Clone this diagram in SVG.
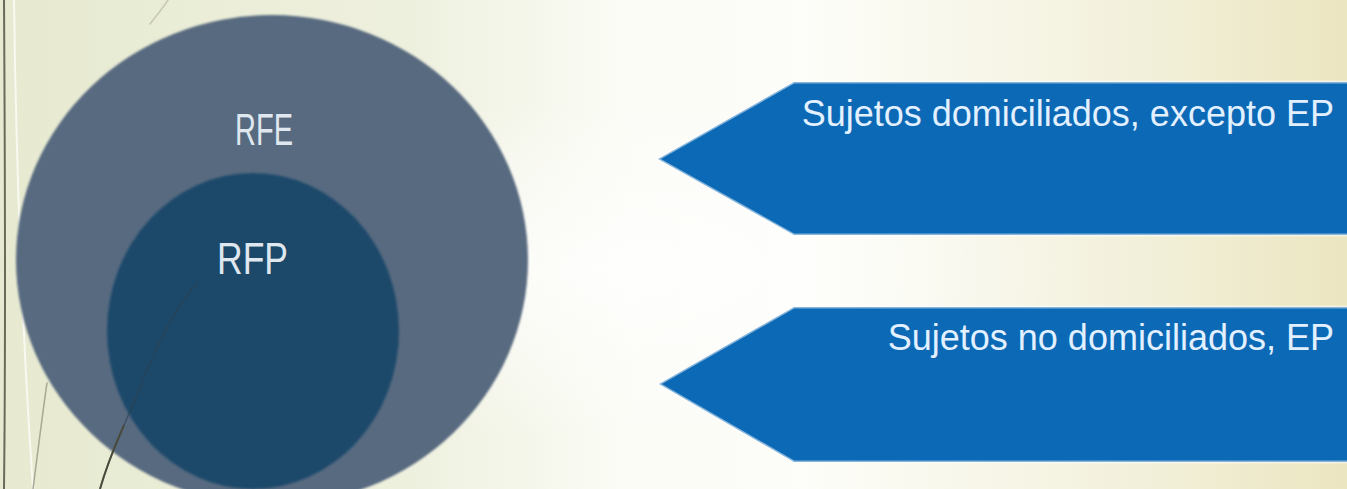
<svg xmlns="http://www.w3.org/2000/svg" width="1347" height="489" viewBox="0 0 1347 489">
  <defs>
    <linearGradient id="bg" x1="0" y1="0" x2="1" y2="0">
      <stop offset="0" stop-color="#e7ead0"/>
      <stop offset="0.3" stop-color="#eef0de"/>
      <stop offset="0.47" stop-color="#fbfcf6"/>
      <stop offset="0.6" stop-color="#fdfdf9"/>
      <stop offset="0.85" stop-color="#f2f0da"/>
      <stop offset="1" stop-color="#ebe5c0"/>
    </linearGradient>
    <radialGradient id="glow" cx="0.45" cy="0.55" r="0.35">
      <stop offset="0" stop-color="#ffffff" stop-opacity="0.8"/>
      <stop offset="1" stop-color="#ffffff" stop-opacity="0"/>
    </radialGradient>
    <filter id="soft" x="-5%" y="-5%" width="110%" height="110%">
      <feGaussianBlur stdDeviation="1.2"/>
    </filter>
  </defs>
  <style>
    .lbl { font-family: "Liberation Sans", Arial, sans-serif; }
    .circle-lbl { fill: #dfe7ef; font-size: 45px; }
    .arrow { fill: #0b69b6; stroke: #ffffff; stroke-opacity: 0.5; stroke-width: 3; }
    .arrow-lbl { fill: #e2f0ff; font-size: 36px; text-anchor: end; }
    .wisp { fill: none; stroke-linecap: round; }
  </style>

  <rect x="0" y="0" width="1347" height="489" fill="url(#bg)"/>
  <rect x="0" y="0" width="1347" height="489" fill="url(#glow)"/>

  <!-- decorative background lines -->
  <g id="wisps">
    <path class="wisp" d="M4 0 C 5 160, 6 320, 4 489" stroke="#6b6a58" stroke-width="2"/>
    <path class="wisp" d="M14 0 C 16 150, 22 330, 33 489" stroke="#ffffff" stroke-width="2" stroke-opacity="0.7"/>
    <path class="wisp" d="M33 489 C 38 450, 43 410, 47 383" stroke="#8b8a78" stroke-width="1.5" stroke-opacity="0.7"/>
    <path class="wisp" d="M168 0 C 163 8, 156 16, 150 24" stroke="#b8b9a4" stroke-width="1.5" stroke-opacity="0.7"/>
  </g>

  <g id="node-rfe">
    <ellipse cx="272" cy="260" rx="256" ry="245" fill="#596a80" filter="url(#soft)"/>
    <text class="lbl circle-lbl" x="235" y="145" textLength="58" lengthAdjust="spacingAndGlyphs">RFE</text>
  </g>

  <g id="node-rfp">
    <ellipse cx="253" cy="331" rx="146" ry="158" fill="#1f4a6b" filter="url(#soft)"/>
    <path d="M100 489 C 110 455, 122 430, 135 400 C 150 360, 172 310, 198 282" fill="none" stroke="#2b3f4e" stroke-width="1.5" stroke-opacity="0.6"/>
    <path d="M100 489 C 110 455, 118 440, 124 425" fill="none" stroke="#4a4a3c" stroke-width="2"/>
    <text class="lbl circle-lbl" x="217" y="274" textLength="71" lengthAdjust="spacingAndGlyphs">RFP</text>
  </g>

  <g id="node-domiciliados">
    <polygon class="arrow" points="658,159 794,82 1349,82 1349,235 794,235"/>
    <text class="lbl arrow-lbl" x="1334" y="126">Sujetos domiciliados, excepto EP</text>
  </g>

  <g id="node-no-domiciliados">
    <polygon class="arrow" points="659,384 794,307 1349,307 1349,462 794,462"/>
    <text class="lbl arrow-lbl" x="1334" y="350">Sujetos no domiciliados, EP</text>
  </g>

  <g id="connectors"></g>
</svg>
